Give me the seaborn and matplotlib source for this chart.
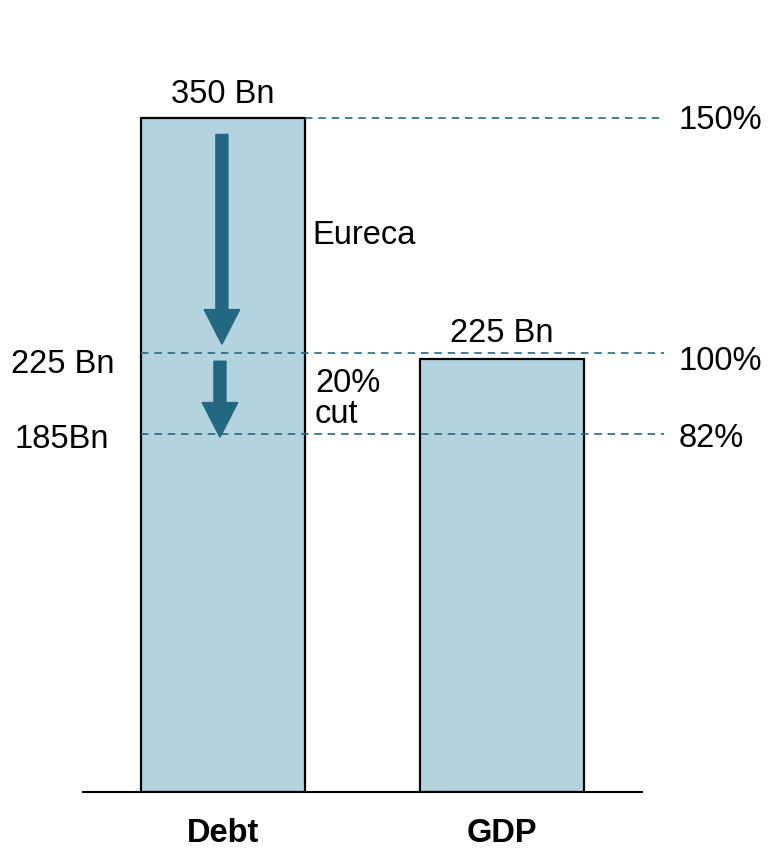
import matplotlib
matplotlib.use("Agg")
import matplotlib.pyplot as plt
import matplotlib.transforms as mtrans
import seaborn as sns
import pandas as pd

# ---- data ----
categories = ["Debt", "GDP"]
values = [350, 225]
bar_labels = ["350 Bn", "225 Bn"]
level_values = [350, 228, 186]
level_pct = ["150%", "100%", "82%"]
level_bn = [None, "225 Bn", "185Bn"]

sns.set_theme(style="white")
plt.rcParams["font.family"] = ["Liberation Sans", "DejaVu Sans"]
plt.rcParams["text.color"] = "black"
plt.rcParams["xtick.color"] = "black"

W, H = 769, 849
fig = plt.figure(figsize=(W / 100, H / 100), dpi=100)
ax = fig.add_axes([83 / W, 1 - 792 / H, (642 - 83) / W, (792 - 22) / H])

df = pd.DataFrame({"cat": categories, "val": values})
sns.barplot(data=df, x="cat", y="val", color="#B3D3DE", saturation=1,
            edgecolor="black", linewidth=1.6, width=0.585, ax=ax)
ax.set_xlim(-0.5, 1.5)
ax.set_ylim(0, 400)

for s in ["top", "left", "right"]:
    ax.spines[s].set_visible(False)
ax.spines["bottom"].set_color("black")
ax.spines["bottom"].set_linewidth(1.5)
ax.set_yticks([])
ax.set_xlabel("")
ax.set_ylabel("")
ax.tick_params(axis="x", length=0, pad=19)
for lab in ax.get_xticklabels():
    lab.set_fontweight("bold")
    lab.set_fontsize(23.5)
    lab.set_color("black")

def shift(dy_px):
    return mtrans.offset_copy(ax.transData, fig=fig, x=0, y=-dy_px * 0.72,
                              units="points")

line_col = "#2A6680"
fs = 23.5
half_w = 0.585 / 2
# dashed levels
starts = [0 + half_w, 0 - half_w, 0 - half_w]
for yv, x0 in zip(level_values, starts):
    ax.plot([x0, 1.58], [yv, yv], ls=(0, (4.5, 3.5)), color=line_col, lw=1.2,
            clip_on=False, zorder=3)

# percent labels on the right
pct_dy = [2, 8, 5]
for yv, t, d in zip(level_values, level_pct, pct_dy):
    ax.text(1.63, yv, t, fontsize=fs, ha="left", va="center", clip_on=False,
            transform=shift(d))

# Bn labels on the left
bn_dy = [0, 11, 6]
bn_x = [0, -0.757, -0.746]
for yv, t, d, xx in zip(level_values, level_bn, bn_dy, bn_x):
    if t:
        ax.text(xx, yv, t, fontsize=fs, ha="left", va="center",
                clip_on=False, transform=shift(d))

# bar top labels
for i, (v, t) in enumerate(zip(values, bar_labels)):
    ax.text(i, v, t, fontsize=fs, ha="center", va="bottom",
            transform=shift(-8 if i == 0 else -10))

# arrows
ax.arrow(-0.003, 341.6, 0, 232.6 - 341.6, width=0.043, head_width=0.127,
         head_length=18, length_includes_head=True, color="#246783", zorder=4)
ax.arrow(-0.01, 223.8, 0, 184.3 - 223.8, width=0.043, head_width=0.127,
         head_length=18, length_includes_head=True, color="#246783", zorder=4)

ax.text(0.32, 289, "Eureca", fontsize=fs, ha="left", va="center")
ax.text(0.33, 204, "20%\ncut", fontsize=fs, ha="left", va="center",
        linespacing=1.0)

fig.savefig("out.png", dpi=100)
